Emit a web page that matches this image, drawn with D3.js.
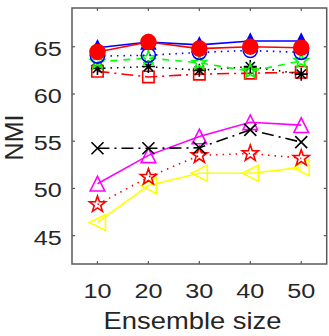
<!DOCTYPE html>
<html><head><meta charset="utf-8">
<script src="https://cdn.jsdelivr.net/npm/d3@7"></script>
<style>html,body{margin:0;padding:0;background:#fff;}svg{display:block;}</style>
</head><body>
<script>
const xVals = [10, 20, 30, 40, 50];
const xTicks = [10, 20, 30, 40, 50];
const yTicks = [45, 50, 55, 60, 65];
const blueTri = [64.9, 65.5, 65.2, 65.6, 65.6];
const redCircle = [64.45, 65.5, 64.8, 65.0, 64.9];
const blueCircle = [64.0, 64.1, 64.4, 64.6, 64.4];
const greenStar = [63.4, 63.8, 63.3, 62.4, 63.5];
const blackAst = [62.7, 62.9, 62.5, 62.9, 62.1];
const redSquare = [62.4, 61.8, 62.1, 62.2, 62.3];
const blackX = [54.25, 54.25, 54.3, 56.2, 54.9];
const magentaTri = [50.5, 53.5, 55.5, 57.0, 56.7];
const redStar = [48.3, 51.2, 53.5, 53.7, 53.2];
const yellowTri = [46.4, 50.3, 51.6, 51.6, 52.2];

const W = 329, H = 336;
const L = 72, R = 326.7, T = 8, B = 264;
const svg = d3.select("body").append("svg").attr("width", W).attr("height", H);
const x = d3.scaleLinear().domain([5, 55]).range([L, R]);
const y = d3.scaleLinear().domain([42.0, 69.1]).range([B, T]);
const FONT = "Liberation Sans, Arial, sans-serif";

const M = {
  circle: r => { const p = d3.path(); p.arc(0, 0, r, 0, 2 * Math.PI); p.closePath(); return p.toString(); },
  triUp: r => `M0,${-r}L${r},${r}L${-r},${r}Z`,
  triLeft: r => `M${-r},0L${r},${-r}L${r},${r}Z`,
  square: r => `M${-r},${-r}H${r}V${r}H${-r}Z`,
  star: r => { let s = ""; for (let i = 0; i < 10; i++) { const a = -Math.PI/2 + i*Math.PI/5; const rr = i%2 ? r*0.4 : r; s += (i? "L":"M") + (rr*Math.cos(a)).toFixed(2) + "," + (rr*Math.sin(a)).toFixed(2);} return s + "Z"; },
  ast: r => { let s = ""; for (let i = 0; i < 4; i++) { const a = i*Math.PI/4; s += `M${(-r*Math.cos(a)).toFixed(2)},${(-r*Math.sin(a)).toFixed(2)}L${(r*Math.cos(a)).toFixed(2)},${(r*Math.sin(a)).toFixed(2)}`;} return s; },
  xm: r => `M${-r},${-r}L${r},${r}M${-r},${r}L${r},${-r}`
};

const series = [
  {v: yellowTri, color: "#FFFF00", dash: null, m: "triLeft", r: 8, fill: "none"},
  {v: redStar, color: "#FF0000", dash: "1.5,5", m: "star", r: 8.5, fill: "none"},
  {v: magentaTri, color: "#FF00FF", dash: null, m: "triUp", r: 7.3, fill: "none"},
  {v: blackX, color: "#000000", dash: "12,5,2,5", m: "xm", r: 6, fill: "none"},
  {v: redSquare, color: "#FF0000", dash: "12,5,2,5", m: "square", r: 5.7, fill: "none"},
  {v: blackAst, color: "#000000", dash: "1.5,5", m: "ast", r: 6.5, fill: "none"},
  {v: greenStar, color: "#00FF00", dash: "7,6", m: "star", r: 7.5, fill: "none"},
  {v: blueCircle, color: "#0000FF", dash: "1.5,5", m: "circle", r: 7, fill: "none"},
  {v: blueTri, color: "#0000FF", dash: null, m: "triUp", r: 7, fill: "#0000FF"},
  {v: redCircle, color: "#FF0000", dash: null, m: "circle", r: 7.5, fill: "#FF0000"}
];

const line = d3.line().x((d, i) => x(xVals[i])).y(d => y(d));
const g = svg.append("g");
series.forEach(s => {
  g.append("path").attr("d", line(s.v)).attr("fill", "none")
    .attr("stroke", s.color).attr("stroke-width", 1.6)
    .attr("stroke-dasharray", s.dash);
  g.selectAll(null).data(s.v).enter().append("path")
    .attr("transform", (d, i) => `translate(${x(xVals[i])},${y(d)})`)
    .attr("d", M[s.m](s.r))
    .attr("fill", s.fill).attr("stroke", s.color).attr("stroke-width", 1.6);
});

const axisColor = "#5a5a5a";
svg.append("rect").attr("x", L).attr("y", T).attr("width", R - L).attr("height", B - T)
  .attr("fill", "none").attr("stroke", axisColor).attr("stroke-width", 1.5);
const tl = 3;
xTicks.forEach(t => {
  svg.append("line").attr("x1", x(t)).attr("x2", x(t)).attr("y1", B).attr("y2", B - tl).attr("stroke", axisColor).attr("stroke-width", 1.2);
  svg.append("line").attr("x1", x(t)).attr("x2", x(t)).attr("y1", T).attr("y2", T + tl).attr("stroke", axisColor).attr("stroke-width", 1.2);
  svg.append("text").attr("transform", `translate(${x(t)},298) scale(1.2,1)`).attr("text-anchor", "middle")
    .attr("font-family", FONT).attr("font-size", 21).attr("fill", "#262626").text(t);
});
yTicks.forEach(t => {
  svg.append("line").attr("x1", L).attr("x2", L + tl).attr("y1", y(t)).attr("y2", y(t)).attr("stroke", axisColor).attr("stroke-width", 1.2);
  svg.append("line").attr("x1", R).attr("x2", R - tl).attr("y1", y(t)).attr("y2", y(t)).attr("stroke", axisColor).attr("stroke-width", 1.2);
  svg.append("text").attr("transform", `translate(61.7,${y(t) + 9}) scale(1.2,1)`).attr("text-anchor", "end")
    .attr("font-family", FONT).attr("font-size", 21).attr("fill", "#262626").text(t);
});
svg.append("text").attr("transform", "translate(192.5,329) scale(1.19,1)").attr("text-anchor", "middle")
  .attr("font-family", FONT).attr("font-size", 23).attr("fill", "#262626").text("Ensemble size");
svg.append("text").attr("transform", "translate(22.5,137.5) rotate(-90)").attr("text-anchor", "middle")
  .attr("font-family", FONT).attr("font-size", 25).attr("fill", "#262626").text("NMI");
</script>
</body></html>
